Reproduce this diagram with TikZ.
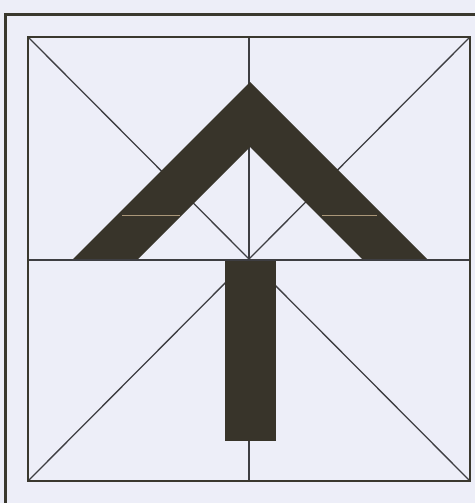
\documentclass[tikz,border=0pt]{standalone}
\begin{document}
\begin{tikzpicture}[x=1pt,y=-1pt,
  paper/.style={fill=bgc},
  thinline/.style={draw=linec,line width=1.3pt},
  frameline/.style={draw=framec,line width=3.2pt},
  borderline/.style={draw=framec,line width=2.2pt},
  darkpiece/.style={fill=darkc},
  seam/.style={draw=seamc,line width=0.8pt}]
\definecolor{bgc}{RGB}{237,238,248}
\definecolor{linec}{RGB}{62,62,66}
\definecolor{framec}{RGB}{58,56,46}
\definecolor{darkc}{RGB}{56,52,42}
\definecolor{seamc}{RGB}{170,150,120}
\useasboundingbox (0,0) rectangle (475,503);
\fill[paper] (0,0) rectangle (475,503);
% outer frame (partly cut off)
\draw[frameline] (5.5,503) -- (5.5,14.5) -- (475,14.5);
% square corners
\coordinate (TL) at (28,37);
\coordinate (TR) at (470,37);
\coordinate (BL) at (28,481);
\coordinate (BR) at (470,481);
\coordinate (C) at (249,259);
% guide lines
\draw[thinline] (TL) -- (BR);
\draw[thinline] (TR) -- (BL);
\draw[thinline] (249,37) -- (249,481);
\draw[thinline] (28,260) -- (470,260);
% chevron
\fill[darkpiece] (250,82) -- (428,260) -- (363,260) -- (250,147) -- (137,260) -- (72,260) -- cycle;
% bar
\fill[darkpiece] (225,261) rectangle (276,441);
% seams in the chevron arms
\draw[seam] (122,215) -- (180,215);
\draw[seam] (322,215) -- (377,215);
% redraw midline over chevron base
\draw[thinline] (28,260) -- (470,260);
% square border
\draw[borderline] (TL) rectangle (BR);
\end{tikzpicture}
\end{document}
